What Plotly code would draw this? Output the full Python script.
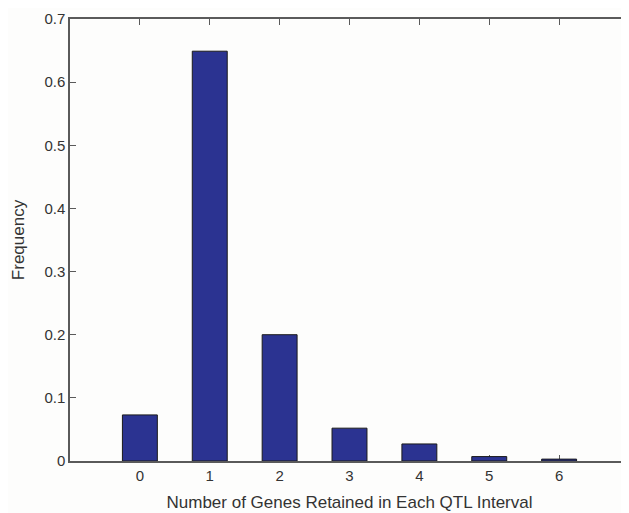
import plotly.graph_objects as go

categories = [0, 1, 2, 3, 4, 5, 6]
frequency = [0.073, 0.649, 0.200, 0.052, 0.027, 0.007, 0.003]
y_ticks = [0, 0.1, 0.2, 0.3, 0.4, 0.5, 0.6, 0.7]
y_tick_labels = ["0", "0.1", "0.2", "0.3", "0.4", "0.5", "0.6", "0.7"]

FONT = "Liberation Sans, Arial, sans-serif"

fig = go.Figure(go.Bar(
    x=categories, y=frequency, width=0.5,
    marker=dict(color="#2b3391", line=dict(color="#1a1a1a", width=1)),
))

axis_common = dict(
    showline=True, linecolor="#5a5a5a", linewidth=1.5, mirror="ticks",
    ticks="inside", ticklen=6, tickcolor="#5a5a5a", tickwidth=1,
    showgrid=False, zeroline=False, automargin=False,
    tickfont=dict(family=FONT, size=15, color="#333"),
)

fig.update_xaxes(range=[-1, 7], tickvals=categories, ticktext=[str(c) for c in categories],
                 title=dict(text="Number of Genes Retained in Each QTL Interval",
                            font=dict(family=FONT, size=17, color="#333"),
                            standoff=13),
                 layer="below traces", **axis_common)
fig.update_yaxes(range=[0, 0.7], tickvals=y_ticks, ticktext=y_tick_labels,
                 title=dict(text="Frequency",
                            font=dict(family=FONT, size=17, color="#333"),
                            standoff=15),
                 **axis_common)

# page body has an 8px margin; size the figure so the plot area lands where the reference's does
fig.update_layout(
    width=621, height=505,
    margin=dict(l=62, r=0, t=11, b=52),
    paper_bgcolor="#fdfdfc", plot_bgcolor="#fdfdfc",
    showlegend=False,
)

fig.write_html("out.html")
